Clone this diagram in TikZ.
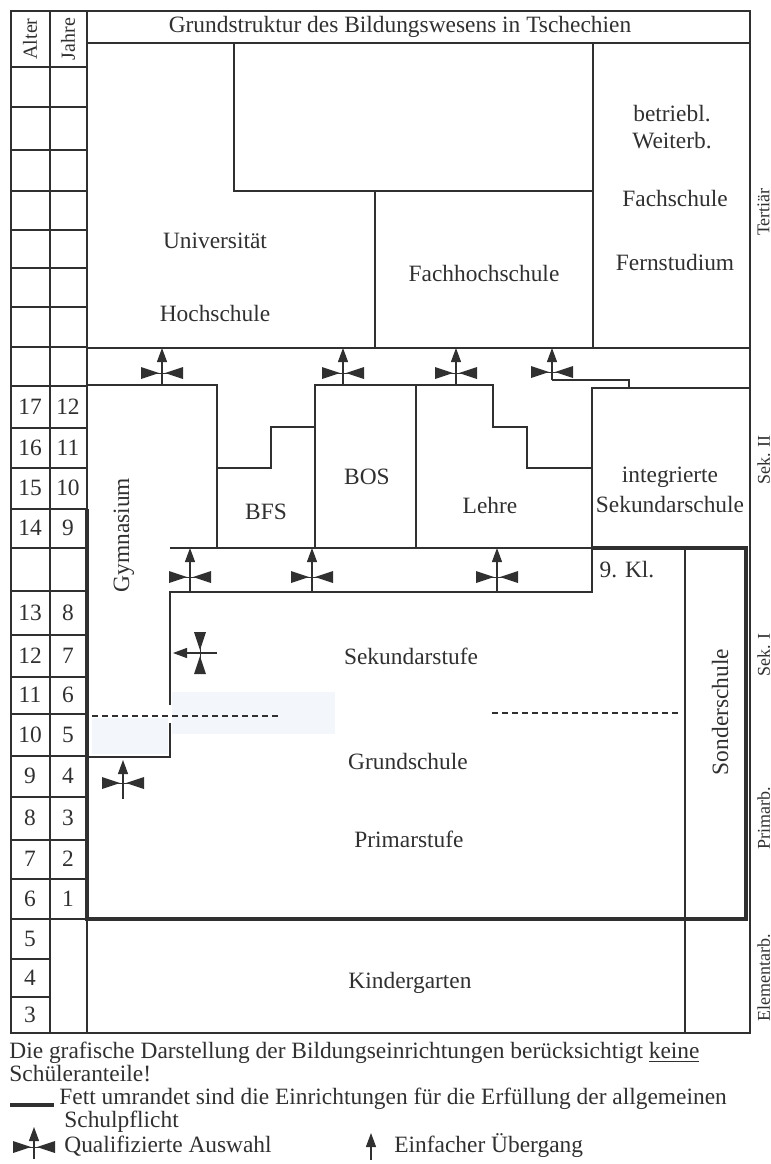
\documentclass[tikz,border=0pt]{standalone}
\usepackage{fontspec}
\setmainfont{Liberation Serif}
\usepackage{tikz}
\usetikzlibrary{calc}
\usetikzlibrary{arrows.meta}
\definecolor{ink}{HTML}{303030}
\definecolor{tint}{HTML}{F3F7FB}
\tikzstyle{every node}=[font=\fontsize{11.7}{14}\selectfont, text=ink, inner sep=0pt]
\tikzstyle{duenn}=[draw=ink, line width=0.7pt]
\tikzstyle{fett}=[draw=ink, line width=2pt]
\tikzstyle{gestrichelt}=[draw=ink, line width=0.6pt, dash pattern=on 3pt off 2pt]
\tikzstyle{uebergang}=[draw=ink, line width=0.6pt, -{Triangle[length=7pt,width=5pt]}]
\tikzstyle{hoch}=[rotate=90]
\tikzstyle{rand}=[rotate=90, anchor=north, font=\fontsize{9}{10}\selectfont]
\tikzset{
    pics/qual/.style 2 args={code={
        \draw[uebergang] (0,#1) -- (0,-#2);
        \draw[ink, line width=0.4pt] (-20,0) -- (20,0);
        \fill[ink] (-21,-6) -- (-21,6) -- (-3,0) -- cycle;
        \fill[ink] (21,-6) -- (21,6) -- (3,0) -- cycle;
    }}
}

\begin{document}
\begin{tikzpicture}[x=0.5pt, y=-0.5pt]
                \useasboundingbox (0,0) rectangle (771,1164);

                \fill[tint] (172,692) rectangle (335,734);
                \fill[tint] (92,718) rectangle (168,754);

                \draw[duenn] (11,11) rectangle (750,1033);
                \draw[duenn] (50,11) -- (50,1033);
                \draw[duenn] (87,11) -- (87,1033);
                \draw[duenn] (11,67) -- (87,67);
                \draw[duenn] (87,43) -- (750,43);
                \foreach \y in {107,150,191,230,268,307,347,386,428,468,509,548,591,635,677,714,756,797,840,879,919}
                    \draw[duenn] (11,\y) -- (87,\y);
                \foreach \y in {959,997}
                    \draw[duenn] (11,\y) -- (50,\y);

                \node[hoch, font=\fontsize{10}{12}\selectfont] (alter) at (30,39) {Alter};
                \node[hoch, font=\fontsize{10}{12}\selectfont] (jahre) at (68,39) {Jahre};
                \foreach \y/\a/\j in {407/17/12, 448/16/11, 488/15/10, 528/14/9, 613/13/8, 656/12/7, 695/11/6, 735/10/5, 776/9/4, 818/8/3, 859/7/2, 899/6/1}{
                    \node (a\a) at (30,\y) {\a};
                    \node (j\j) at (68,\y) {\j};
                }
                \foreach \y/\a in {939/5, 978/4, 1015/3}
                    \node (a\a) at (30,\y) {\a};

                \draw[duenn] (234,43) -- (234,191) -- (593,191);
                \draw[duenn] (375,191) -- (375,348);
                \draw[duenn] (593,43) -- (593,348);
                \draw[duenn] (87,348) -- (750,348);

                \node (titel) at (400,27) {Grundstruktur des Bildungswesens in Tschechien};
                \node (uni) at (215,241) {Universität};
                \node (hs) at (215,313) {Hochschule};
                \node (fhs) at (484,273) {Fachhochschule};
                \node (betr) at (672,114) {betriebl.};
                \node (weiterb) at (672,141) {Weiterb.};
                \node (fs) at (675,198) {Fachschule};
                \node (fern) at (675,262) {Fernstudium};

                \draw[duenn] (87,385) -- (217,385) -- (217,548);
                \draw[duenn] (217,468) -- (271,468) -- (271,427) -- (315,427);
                \draw[duenn] (315,548) -- (315,385) -- (493,385) -- (493,427) -- (527,427) -- (527,468) -- (592,468);
                \draw[duenn] (416,385) -- (416,548);
                \draw[duenn] (592,548) -- (592,388) -- (750,388);
                \draw[duenn] (552,380) -- (629,380) -- (629,388);

                \node (bfs) at (266,512) {BFS};
                \node (bos) at (367,477) {BOS};
                \node (lehre) at (490,505) {Lehre};
                \node (integ) at (670,477) {integrierte};
                \node (sekschule) at (670,504) {Sekundarschule};
                \node[hoch] (gym) at (124,535) {Gymnasium};

                \draw[duenn] (170,548) -- (592,548);
                \draw[duenn] (592,548) -- (592,592) -- (170,592) -- (170,705);
                \draw[duenn] (170,723) -- (170,757) -- (87,757);
                \draw[duenn] (685,548) -- (685,1033);
                \draw[gestrichelt] (92,716) -- (278,716);
                \draw[gestrichelt] (492,713) -- (678,713);
                \draw[fett] (87,509) -- (87,919) -- (746,919) -- (746,548) -- (592,548);

                \node (kl) at (627,570) {9. Kl.};
                \node (sekstufe) at (411,656) {Sekundarstufe};
                \node (grund) at (408,761) {Grundschule};
                \node (prim) at (409,839) {Primarstufe};
                \node (kiga) at (410,983) {Kindergarten};
                \node[hoch] (sonder) at (720,712) {Sonderschule};

                \pic at (162,373) {qual={12}{25}};
                \pic at (343,373) {qual={12}{25}};
                \pic at (456,373) {qual={12}{25}};
                \pic at (552,372) {qual={8}{24}};
                \pic at (190,577) {qual={15}{29}};
                \pic at (312,577) {qual={15}{29}};
                \pic at (497,577) {qual={15}{29}};
                \pic at (123,783) {qual={16}{23}};
                \pic[rotate=90] at (200,653) {qual={17}{27}};

                \node[rand] (tert) at (757,212) {Tertiär};
                \node[rand] (sek2) at (757,460) {Sek. II};
                \node[rand] (sek1) at (757,655) {Sek. I};
                \node[rand] (primb) at (757,818) {Primarb.};
                \node[rand] (elem) at (757,978) {Elementarb.};

                \node[anchor=base west] (hinweis) at (9,1058) {Die grafische Darstellung der Bildungseinrichtungen berücksichtigt \underline{keine}};
                \node[anchor=base west] (anteile) at (9,1081) {Schüleranteile!};
                \coordinate (leg0) at (10,1105);
                \coordinate (leg1) at (54,1105);
                \draw[fett] (leg0) -- (leg1);
                \node[anchor=base west] (umrandet) at (59,1104) {Fett umrandet sind die Einrichtungen für die Erfüllung der allgemeinen};
                \node[anchor=base west] (pflicht) at (64,1127) {Schulpflicht};
                \pic at (34,1147) {qual={12}{20}};
                \node[anchor=base west] (qual) at (64,1152) {Qualifizierte Auswahl};
                \coordinate (ueb0) at (371,1160);
                \coordinate (ueb1) at (371,1133);
                \draw[uebergang] (ueb0) -- (ueb1);
                \node[anchor=base west] (einf) at (394,1152) {Einfacher Übergang};
            \end{tikzpicture}
\end{document}
